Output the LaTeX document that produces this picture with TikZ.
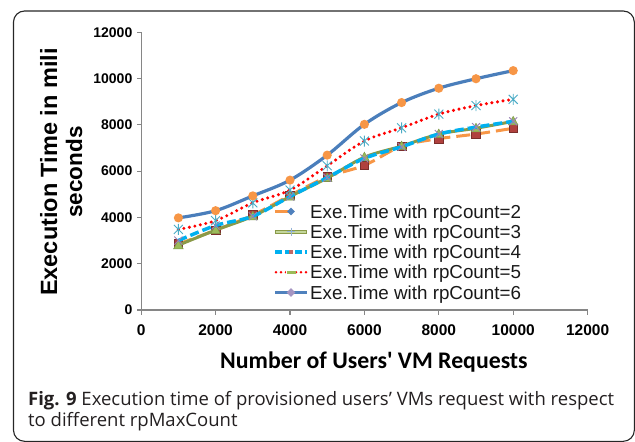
\documentclass[tikz,border=0pt]{standalone}
\usepackage{fontspec}
\setmainfont{Liberation Sans}
\newfontfamily\titlefont{Carlito}[Ligatures=TeXOff]
\newfontfamily\capfont{Open Sans}
\usetikzlibrary{shapes.geometric}

\definecolor{axisgray}{HTML}{868686}
\definecolor{sixblue}{HTML}{4A7EBB}
\definecolor{markorange}{HTML}{F79646}
\definecolor{fivered}{HTML}{FF0000}
\definecolor{markaqua}{HTML}{4BACC6}
\definecolor{fourcyan}{HTML}{00B0F0}
\definecolor{markpurple}{HTML}{8064A2}
\definecolor{threegreen}{HTML}{8A9A48}
\definecolor{threelight}{HTML}{C3D69B}
\definecolor{markgreen}{HTML}{9BBB59}
\definecolor{twoorange}{HTML}{F79646}
\definecolor{markred}{HTML}{B0413E}
\definecolor{markblue}{HTML}{4F81BD}
\definecolor{legplus}{HTML}{95B3D7}
\definecolor{legdiamond}{HTML}{A595C2}
\definecolor{captext}{HTML}{231F20}

% data markers
\pgfdeclareplotmark{sqm}{\pgfpathrectangle{\pgfqpoint{-4.3pt}{-4.3pt}}{\pgfqpoint{8.6pt}{8.6pt}}\pgfusepathqfillstroke}
\pgfdeclareplotmark{trim}{\pgfpathmoveto{\pgfqpoint{0pt}{5pt}}\pgfpathlineto{\pgfqpoint{-4.8pt}{-3.6pt}}\pgfpathlineto{\pgfqpoint{4.8pt}{-3.6pt}}\pgfpathclose\pgfusepathqfillstroke}
\pgfdeclareplotmark{xm}{\pgfpathmoveto{\pgfqpoint{-4pt}{-4pt}}\pgfpathlineto{\pgfqpoint{4pt}{4pt}}\pgfpathmoveto{\pgfqpoint{-4pt}{4pt}}\pgfpathlineto{\pgfqpoint{4pt}{-4pt}}\pgfusepathqstroke}
\pgfdeclareplotmark{starm}{\pgfpathmoveto{\pgfqpoint{-4.5pt}{-4.5pt}}\pgfpathlineto{\pgfqpoint{4.5pt}{4.5pt}}\pgfpathmoveto{\pgfqpoint{-4.5pt}{4.5pt}}\pgfpathlineto{\pgfqpoint{4.5pt}{-4.5pt}}\pgfpathmoveto{\pgfqpoint{0pt}{-5.5pt}}\pgfpathlineto{\pgfqpoint{0pt}{5.5pt}}\pgfusepathqstroke}
\pgfdeclareplotmark{dotm}{\pgfpathcircle{\pgfpointorigin}{4.6pt}\pgfusepathqfill}

\tikzset{
  axisline/.style={axisgray, line width=1.2pt},
  ytick/.style={font=\fontsize{14}{16}\selectfont\bfseries, anchor=east, inner sep=0pt},
  xtick/.style={font=\fontsize{15.5}{17}\selectfont\bfseries, anchor=north, inner sep=0pt},
  legtext/.style={font=\fontsize{18.8}{22}\selectfont, anchor=base west, inner sep=0pt, text=black!90},
  captionline/.style={font=\fontsize{18.5}{22}\selectfont\capfont, text=captext, anchor=base west, inner sep=0pt},
  twoline/.style={twoorange, line width=3pt, dash pattern=on 14pt off 6pt},
  threeline/.style={threegreen, line width=3pt},
  fourline/.style={fourcyan, line width=3.5pt, dash pattern=on 9pt off 4pt},
  fiveline/.style={fivered, line width=3.4pt, line cap=round, dash pattern=on 0pt off 5.6pt},
  sixline/.style={sixblue, line width=3.2pt},
  smoothplot/.style={smooth, tension=0.55},
  twomarks/.style={only marks, mark=sqm, mark options={fill=markred, draw=markred!70!black, line width=0.6pt}},
  threemarks/.style={only marks, mark=trim, mark options={fill=markgreen, draw=markgreen!80!black, line width=0.5pt}},
  fourmarks/.style={only marks, mark=xm, mark options={draw=markpurple!80, line width=0.9pt}},
  fivemarks/.style={only marks, mark=starm, mark options={draw=markaqua, line width=0.9pt}},
  sixmarks/.style={only marks, mark=dotm, mark options={fill=markorange}},
}

\begin{document}
\begin{tikzpicture}[x=1pt, y=-1pt]
  \useasboundingbox (0,0) rectangle (635,442);
  % outer frame of the figure
  \draw[black!85, line width=1.1pt, rounded corners=11pt] (13.5,11) rectangle (634.3,441.3);

  % axes
  \draw[axisline] (141.2,32) -- (141.2,315);
  \draw[axisline] (137,310) -- (587.6,310);
  \foreach \v [count=\i from 0] in {0,2000,4000,6000,8000,10000,12000} {
    \pgfmathsetmacro{\yy}{310-\i*46.3}
    \pgfmathsetmacro{\xx}{141.2+\i*74.4}
    \draw[axisline] (137,\yy) -- (141.2,\yy);
    \draw[axisline] (\xx,310) -- (\xx,315);
    \node[ytick] (yl\i) at (132.5,\yy) {\v};
    \node[xtick] (xl\i) at (\xx,324) {\v};
  }

  % axis titles
  \node[font=\fontsize{23.5}{26}\selectfont\bfseries, rotate=90, anchor=base, inner sep=0pt] (ytitleA) at (57,172) {Execution Time in mili};
  \node[font=\fontsize{22.5}{26}\selectfont\bfseries, rotate=90, anchor=base, inner sep=0pt] (ytitleB) at (82,172) {seconds};
  \node[font=\fontsize{23.8}{26}\selectfont\titlefont\bfseries, anchor=base, inner sep=0pt] (xtitle) at (374,368) {Number of Users' VM Requests};

  % data series (x in thousands of requests, y in thousands of ms)
  \begin{scope}[shift={(141.2,310)}, x=37.2pt, y=23.15pt]
    \def\datatwo{(1,2.85) (2,3.45) (3,4.1) (4,4.95) (5,5.75) (6,6.25) (7,7.08) (8,7.4) (9,7.6) (10,7.85)}
    \def\datathree{(1,2.8) (2,3.45) (3,4.05) (4,4.9) (5,5.7) (6,6.6) (7,7.08) (8,7.6) (9,7.85) (10,8.15)}
    \def\datafour{(1,3.0) (2,3.65) (3,4.05) (4,4.9) (5,5.72) (6,6.55) (7,7.05) (8,7.6) (9,7.9) (10,8.15)}
    \def\datafive{(1,3.48) (2,3.86) (3,4.63) (4,5.18) (5,6.23) (6,7.3) (7,7.87) (8,8.46) (9,8.83) (10,9.1)}
    \def\datasix{(1,3.98) (2,4.29) (3,4.93) (4,5.61) (5,6.69) (6,8.02) (7,8.96) (8,9.58) (9,9.99) (10,10.34)}

    \draw[twoline] plot[smoothplot] coordinates {\datatwo};
    \path plot[twomarks] coordinates {\datatwo};

    \draw[threeline] plot[smoothplot] coordinates {\datathree};
    \path plot[threemarks] coordinates {\datathree};

    \draw[fourline] plot[smoothplot] coordinates {\datafour};
    \path plot[fourmarks] coordinates {\datafour};

    \draw[fiveline] plot[smoothplot] coordinates {\datafive};
    \path plot[fivemarks] coordinates {\datafive};

    \draw[sixline] plot[smoothplot] coordinates {\datasix};
    \path plot[sixmarks] coordinates {\datasix};
  \end{scope}

  % legend
  \draw[twoorange, line width=3pt] (275,211.5) -- (289,211.5);
  \node[diamond, fill=markblue, inner sep=0pt, minimum size=8pt] (lm1) at (291,211.5) {};
  \node[legtext] (lt1) at (310,218.2) {Exe.Time with rpCount=2};

  \draw[threegreen, line width=4.4pt] (275,231.8) -- (307,231.8);
  \draw[threelight, line width=1.8pt] (276,231.8) -- (306,231.8);
  \draw[legplus, line width=1pt] (291,227.5) -- (291,236.1) (287,231.8) -- (295,231.8);
  \node[legtext] (lt2) at (310,238.5) {Exe.Time with rpCount=3};

  \draw[fourcyan, line width=3.2pt, dash pattern=on 7pt off 3pt] (275,252) -- (307,252);
  \fill[markred!80] (289,250.3) rectangle (293,253.7);
  \node[legtext] (lt3) at (310,258.7) {Exe.Time with rpCount=4};

  \draw[fivered, line width=2.8pt, line cap=round, dash pattern=on 0pt off 5pt] (276,272.2) -- (307,272.2);
  \fill[white] (286,269) rectangle (296,275.4);
  \fill[markgreen] (286.5,270.8) rectangle (295.5,273.6);
  \node[legtext] (lt4) at (310,278.9) {Exe.Time with rpCount=5};

  \draw[markblue, line width=3pt] (275,292.5) -- (307,292.5);
  \node[diamond, fill=legdiamond, inner sep=0pt, minimum size=9pt] (lm5) at (291,292.5) {};
  \node[legtext] (lt5) at (310,299.2) {Exe.Time with rpCount=6};

  % caption
  \node[captionline] (cap1) at (28,405) {\textbf{Fig. 9} Execution time of provisioned users’ VMs request with respect};
  \node[captionline] (cap2) at (28,426) {to different rpMaxCount};
\end{tikzpicture}
\end{document}
